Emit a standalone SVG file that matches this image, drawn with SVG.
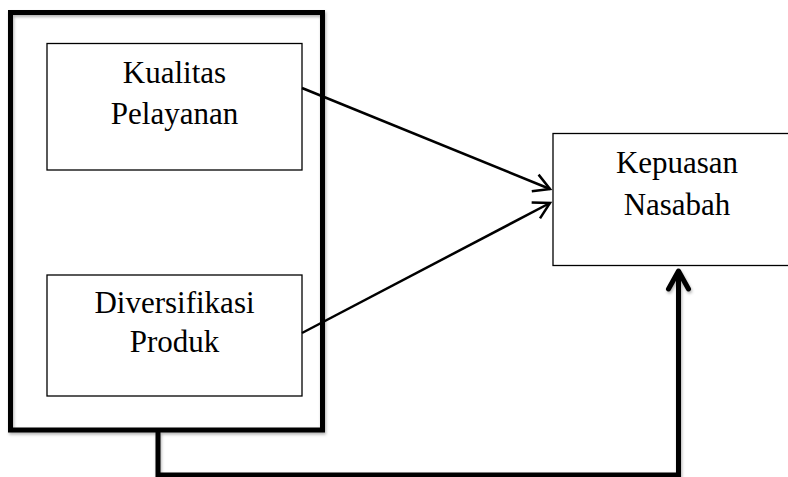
<svg xmlns="http://www.w3.org/2000/svg" width="788" height="477" viewBox="0 0 788 477">
<style>
  .box { fill: #ffffff; stroke: #000000; stroke-width: 1.3; }
  .lbl { font-family: "Liberation Serif", "Times New Roman", serif; font-size: 31px; fill: #000000; text-anchor: middle; }
  .thick { fill: none; stroke: #000000; stroke-width: 5; }
  .thin { fill: none; stroke: #000000; stroke-width: 2.5; }
</style>
<defs>
  <filter id="sh" x="-10%" y="-10%" width="120%" height="120%">
    <feDropShadow dx="1" dy="2" stdDeviation="1.5" flood-color="#000" flood-opacity="0.3"/>
  </filter>
  <marker id="open" markerUnits="userSpaceOnUse" viewBox="-22 -14 26 28" markerWidth="26" markerHeight="28" refX="0" refY="0" orient="auto">
    <path d="M-16,-9 L0,0 L-16,9" fill="none" stroke="#000" stroke-width="2.5" stroke-linejoin="miter"/>
  </marker>
  <marker id="openThick" markerUnits="userSpaceOnUse" viewBox="-26 -16 30 32" markerWidth="30" markerHeight="32" refX="0" refY="0" orient="auto">
    <path d="M-19,-10 L-1,0 L-19,10" fill="none" stroke="#000" stroke-width="5" stroke-linecap="round" stroke-linejoin="round"/>
  </marker>
</defs>

<g id="group-outer">
  <rect x="10.5" y="12.5" width="312" height="417.5" class="thick" fill="#ffffff" filter="url(#sh)"/>
</g>

<g id="node-kualitas">
  <rect x="47" y="43.5" width="255" height="126.5" class="box"/>
  <text x="174.5" y="83" class="lbl">Kualitas</text>
  <text x="174.5" y="124" class="lbl">Pelayanan</text>
</g>

<g id="node-diversifikasi">
  <rect x="47" y="275" width="255" height="121" class="box"/>
  <text x="174.5" y="313" class="lbl">Diversifikasi</text>
  <text x="174.5" y="352" class="lbl">Produk</text>
</g>

<g id="node-kepuasan">
  <rect x="553" y="133.5" width="250" height="132" class="box"/>
  <text x="677" y="173" class="lbl">Kepuasan</text>
  <text x="677" y="215" class="lbl">Nasabah</text>
</g>

<g id="connectors">
  <line x1="302" y1="88" x2="550" y2="189" class="thin" marker-end="url(#open)"/>
  <line x1="302" y1="333" x2="550" y2="203" class="thin" marker-end="url(#open)"/>
  <path d="M158,432 L158,475 L678.5,475 L678.5,270" class="thick" filter="url(#sh)" marker-end="url(#openThick)"/>
</g>
</svg>
